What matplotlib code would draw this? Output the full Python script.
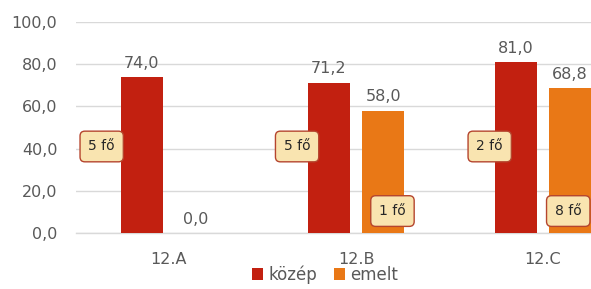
# Grouped bar chart: közép / emelt averages per class
import matplotlib.pyplot as plt
import numpy as np

# Data:
classes = ["12.A", "12.B", "12.C"]
kozep = [74.0, 71.2, 81.0]
emelt = [0.0, 58.0, 68.8]
kozep_fo = ["5 fő", "5 fő", "2 fő"]
emelt_fo = [None, "1 fő", "8 fő"]

# Colors:
red = "#C22010"
orange = "#E97816"
gray = "#595959"

plt.rcParams['font.family'] = ['DejaVu Sans']

fig = plt.figure(figsize=(5.91, 2.89), dpi=100)
ax = fig.add_axes([75.5 / 591, 56 / 289, 1 - 75.5 / 591, 211 / 289])

x = np.arange(len(classes))
w = 0.225
off = 0.29
b1 = ax.bar(x - off / 2, kozep, w, color=red, label="közép")
b2 = ax.bar(x + off / 2, emelt, w, color=orange, label="emelt")

# Value labels above bars:
for bars, vals in ((b1, kozep), (b2, emelt)):
    for r, v in zip(bars, vals):
        ax.text(r.get_x() + r.get_width() / 2, v + 3, f"{v:.1f}".replace(".", ","),
                ha="center", va="bottom", fontsize=11.5, color=gray)

# "fő" callout boxes:
box = dict(boxstyle="round,pad=0.6,rounding_size=0.35", fc="#F9E4B0", ec="#B5452E", lw=1)
kozep_dx = [-0.215, -0.17, -0.14]
emelt_dx = [0, 0.05, -0.01]
for r, t, dx in zip(b1, kozep_fo, kozep_dx):
    ax.text(r.get_x() + r.get_width() / 2 + dx, 41, t, ha="center", va="center",
            fontsize=10, color="#262626", bbox=box)
for r, t, dx in zip(b2, emelt_fo, emelt_dx):
    if t:
        ax.text(r.get_x() + r.get_width() / 2 + dx, 10.4, t, ha="center", va="center",
                fontsize=10, color="#262626", bbox=box)

# Axes styling:
ax.set_ylim(0, 100)
ax.set_xlim(-0.5, (591 - 75.5) / 187 - 0.5)
ax.set_yticks(np.arange(0, 101, 20))
ax.set_yticklabels([f"{v:.1f}".replace(".", ",") for v in np.arange(0, 101, 20)])
ax.set_xticks(x)
ax.set_xticklabels(classes)
ax.tick_params(length=0, labelsize=11.5, labelcolor=gray)
ax.tick_params(axis="x", pad=14)
ax.tick_params(axis="y", pad=13)
ax.grid(axis="y", color="#D9D9D9", lw=1)
ax.axhline(0, color="#D9D9D9", lw=1, clip_on=False, zorder=0.5)
ax.set_axisbelow(True)
for s in ax.spines.values():
    s.set_visible(False)

fig.legend(loc="lower center", bbox_to_anchor=(325 / 591, -0.035), ncol=2, frameon=False,
           fontsize=12, labelcolor=gray, handlelength=0.7, handleheight=0.7,
           handletextpad=0.3, columnspacing=1.0)

fig.savefig("out.png", dpi=100)
